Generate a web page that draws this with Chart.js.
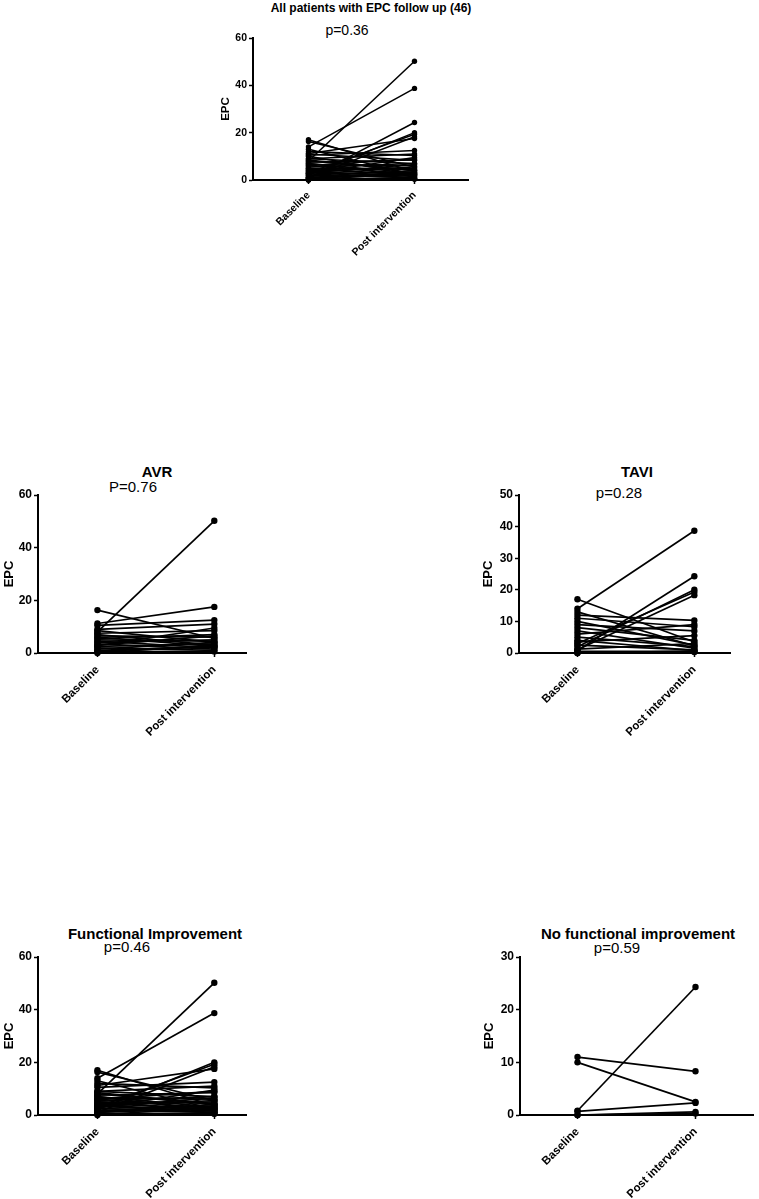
<!DOCTYPE html>
<html>
<head>
<meta charset="utf-8">
<script src="https://cdn.jsdelivr.net/npm/chart.js@4/dist/chart.umd.min.js"></script>
<style>
  html, body { margin: 0; padding: 0; background: #fff; }
  body { width: 759px; height: 1199px; position: relative; overflow: hidden; font-family: 'Liberation Sans', Arial, sans-serif; }
  canvas { position: absolute; }
  .t { position: absolute; line-height: 1; white-space: nowrap; transform: translate(-50%, -50%); color: #000; }
  .b { font-weight: bold; }
</style>
</head>
<body>
<div class="t b" style="left:371px; top:8px; font-size:12px;">All patients with EPC follow up (46)</div>
<div class="t" style="left:347px; top:30px; font-size:14px;">p=0.36</div>

<div class="t b" style="left:157px; top:471px; font-size:15px;">AVR</div>
<div class="t" style="left:133px; top:486px; font-size:15px;">P=0.76</div>

<div class="t b" style="left:637px; top:471px; font-size:15px;">TAVI</div>
<div class="t" style="left:619px; top:492px; font-size:15px;">p=0.28</div>

<div class="t b" style="left:155px; top:933px; font-size:15px;">Functional Improvement</div>
<div class="t" style="left:127px; top:946px; font-size:15px;">p=0.46</div>

<div class="t b" style="left:638px; top:933px; font-size:15px;">No functional improvement</div>
<div class="t" style="left:617px; top:947px; font-size:15px;">p=0.59</div>

<canvas id="c1"></canvas>
<canvas id="c2"></canvas>
<canvas id="c3"></canvas>
<canvas id="c4"></canvas>
<canvas id="c5"></canvas>

<script>
// ---- data ----
const categories = ['Baseline', 'Post intervention'];

const avrBaseline = [8, 16.3, 11.2, 10.5, 9, 8.5, 7.5, 7, 6.5, 6, 5.5, 5, 4.5, 4, 3.5, 3, 2.5, 2, 1.5, 1, 0.5, 0, 2.8, 0.7];
const avrPost     = [50.2, 5.5, 17.5, 12.5, 11, 4, 8.5, 3, 6, 2.5, 7, 4.5, 2, 5, 1.5, 6.5, 3.5, 1, 4, 2.5, 0.6, 3, 9.5, 2.3];
const avrImproved = [1, 1, 1, 1, 1, 1, 1, 1, 1, 1, 1, 1, 1, 1, 1, 1, 1, 1, 1, 1, 1, 1, 1, 0];

const taviBaseline = [14, 17, 0.8, 2, 3, 1, 11, 10, 12, 9, 8, 7, 6, 5, 4, 3.5, 2.5, 1.2, 0.5, 0, 0, 13];
const taviPost     = [38.7, 3.5, 24.3, 20, 19.3, 18.3, 8.3, 2.5, 10.3, 7, 4, 1.5, 9, 2, 0.8, 5.5, 1, 3, 0.5, 0.6, 0.3, 2.2];
const taviImproved = [1, 1, 0, 1, 1, 1, 0, 0, 1, 1, 1, 1, 1, 1, 1, 1, 1, 1, 1, 0, 0, 1];

const yMaxAll = 60, yStepAll = 20;
const yMaxAVR = 60, yStepAVR = 20;
const yMaxTAVI = 50, yStepTAVI = 10;
const yMaxFunc = 60, yStepFunc = 20;
const yMaxNoFunc = 30, yStepNoFunc = 10;

// ---- derived groupings ----
const allBaseline = avrBaseline.concat(taviBaseline);
const allPost = avrPost.concat(taviPost);
const allImproved = avrImproved.concat(taviImproved);
const funcBaseline = allBaseline.filter((v, i) => allImproved[i] === 1);
const funcPost = allPost.filter((v, i) => allImproved[i] === 1);
const noFuncBaseline = allBaseline.filter((v, i) => allImproved[i] === 0);
const noFuncPost = allPost.filter((v, i) => allImproved[i] === 0);

const FONT = "'Liberation Sans', Arial, sans-serif";

function makePanel(id, cfg) {
  const cv = document.getElementById(id);
  const a = cfg.area;
  const left = a.left - cfg.yW;
  const top = a.top - cfg.padTop;
  const width = a.right - left + 2;
  const height = (a.bottom - a.top) + cfg.padTop + cfg.xH;
  cv.style.left = left + 'px';
  cv.style.top = top + 'px';
  cv.width = width; cv.height = height;
  cv.style.width = width + 'px'; cv.style.height = height + 'px';
  const unit = cfg.x1 - cfg.x0;
  const xmin = (a.left - cfg.x0) / unit;
  const xmax = (a.right - cfg.x0) / unit;

  const datasets = cfg.base.map((b, i) => ({
    data: [{ x: 0, y: b }, { x: 1, y: cfg.post[i] }],
    borderColor: '#000',
    backgroundColor: '#000',
    pointBackgroundColor: '#000',
    pointBorderColor: '#000',
    pointRadius: cfg.r,
    pointBorderWidth: 0,
    borderWidth: cfg.lw,
    clip: false,
    tension: 0
  }));

  new Chart(cv, {
    type: 'line',
    data: { datasets },
    options: {
      responsive: false,
      animation: false,
      devicePixelRatio: 1,
      layout: { padding: { top: cfg.padTop, right: 2, left: 0, bottom: 0 } },
      plugins: { legend: { display: false }, tooltip: { enabled: false }, title: { display: false } },
      scales: {
        x: {
          type: 'linear',
          min: xmin, max: xmax,
          afterBuildTicks: (s) => { s.ticks = [{ value: 0 }, { value: 1 }]; },
          afterFit: (s) => { s.height = cfg.xH; },
          ticks: {
            autoSkip: false,
            minRotation: 45, maxRotation: 45,
            padding: cfg.xPad,
            color: '#000',
            font: { family: FONT, size: cfg.xFont, weight: 'bold' },
            callback: (v) => categories[v]
          },
          grid: { drawOnChartArea: false, drawTicks: true, tickLength: 4, color: '#000', tickWidth: 1.5 },
          border: { display: true, color: '#000', width: 2 }
        },
        y: {
          type: 'linear',
          min: 0, max: cfg.ymax,
          afterFit: (s) => { s.width = cfg.yW; },
          ticks: {
            stepSize: cfg.ystep,
            padding: 2,
            color: '#000',
            font: { family: FONT, size: cfg.yFont, weight: 'bold' }
          },
          title: {
            display: true, text: 'EPC', color: '#000',
            font: { family: FONT, size: cfg.tFont, weight: 'bold' },
            padding: { top: cfg.tPad, bottom: 0 }
          },
          grid: { drawOnChartArea: false, drawTicks: true, tickLength: 4, color: '#000', tickWidth: 1.5 },
          border: { display: true, color: '#000', width: 2 }
        }
      }
    }
  });
}

makePanel('c1', {
  area: { left: 253, top: 38, right: 470, bottom: 180 }, x0: 309, x1: 416,
  yW: 42, xH: 80, padTop: 10, xPad: 5, xFont: 10.5, yFont: 10.5, tFont: 11.5, tPad: 8,
  ymax: yMaxAll, ystep: yStepAll, base: allBaseline, post: allPost, r: 2.7, lw: 1.5
});
makePanel('c2', {
  area: { left: 38, top: 495, right: 248, bottom: 653 }, x0: 98, x1: 216,
  yW: 38, xH: 90, padTop: 10, xPad: 6, xFont: 11.5, yFont: 12, tFont: 13, tPad: 2,
  ymax: yMaxAVR, ystep: yStepAVR, base: avrBaseline, post: avrPost, r: 3.2, lw: 1.7
});
makePanel('c3', {
  area: { left: 519, top: 495, right: 732, bottom: 653 }, x0: 578, x1: 696,
  yW: 40, xH: 90, padTop: 10, xPad: 6, xFont: 11.5, yFont: 12, tFont: 13, tPad: 2,
  ymax: yMaxTAVI, ystep: yStepTAVI, base: taviBaseline, post: taviPost, r: 3.2, lw: 1.7
});
makePanel('c4', {
  area: { left: 38, top: 957, right: 248, bottom: 1115 }, x0: 98, x1: 216,
  yW: 38, xH: 84, padTop: 10, xPad: 6, xFont: 11.5, yFont: 12, tFont: 13, tPad: 2,
  ymax: yMaxFunc, ystep: yStepFunc, base: funcBaseline, post: funcPost, r: 3.2, lw: 1.7
});
makePanel('c5', {
  area: { left: 520, top: 957, right: 755, bottom: 1115 }, x0: 578, x1: 697,
  yW: 40, xH: 84, padTop: 10, xPad: 6, xFont: 11.5, yFont: 12, tFont: 13, tPad: 2,
  ymax: yMaxNoFunc, ystep: yStepNoFunc, base: noFuncBaseline, post: noFuncPost, r: 3.2, lw: 1.7
});
</script>
</body>
</html>
